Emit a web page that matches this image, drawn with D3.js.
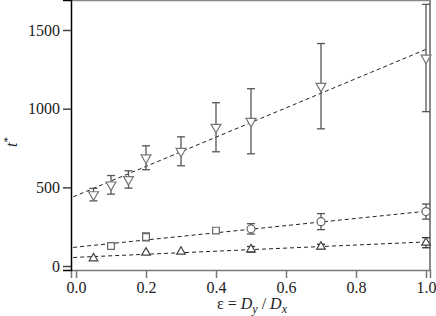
<!DOCTYPE html>
<html lang="en">
<head>
<meta charset="UTF-8">
<title>t* vs epsilon</title>
<script src="https://cdn.jsdelivr.net/npm/d3@7"></script>
<style>
  body { margin: 0; background: #fff; }
</style>
</head>
<body>
<script>
// data
var epsDown = [0.05, 0.1, 0.15, 0.2, 0.3, 0.4, 0.5, 0.7, 1.0];
var tDown   = [454, 516, 550, 688, 729, 882, 920, 1143, 1322];
var errDown = [40, 59, 55, 76, 92, 156, 207, 271, 341];

var epsSq = [0.1, 0.2, 0.4, 0.5, 0.7, 1.0];
var tSq   = [127, 185, 225, 236, 282, 346];
var errSq = [0, 25, 0, 33, 51, 48];

var epsUp = [0.05, 0.2, 0.3, 0.5, 0.7, 1.0];
var tUp   = [49, 85, 91, 106, 123, 148];
var errUp = [0, 0, 0, 18, 15, 32];

// fitted lines: [intercept, slope]
var fits = [[447, 930], [120, 228], [55, 98]];

var xTicks = [0, 0.2, 0.4, 0.6, 0.8, 1.0];
var yTicks = [0, 500, 1000, 1500];

var W = 436, H = 316;
var padL = 71, padR = 430, padT = 0, padB = 270;
var serif = '"Liberation Serif", "Times New Roman", serif';

var svg = d3.select("body").append("svg")
  .attr("width", W)
  .attr("height", H);

var x = d3.scaleLinear().domain([-5/350, 1 + 4/350]).range([padL, padR]);
var y = d3.scaleLinear().domain([-25.4, 1690.7]).range([padB, padT]);

// frame (top and right in grey)
svg.append("line").attr("x1", padL).attr("x2", padR + 1).attr("y1", 0.5).attr("y2", 0.5)
  .attr("stroke", "#888").attr("stroke-width", 1.5);
svg.append("line").attr("x1", padR).attr("x2", padR).attr("y1", 0).attr("y2", padB)
  .attr("stroke", "#888").attr("stroke-width", 2);

// axes
var xAxis = svg.append("g")
  .attr("transform", "translate(0," + padB + ")")
  .call(d3.axisBottom(x).tickValues(xTicks).tickFormat(d3.format(".1f")).tickSizeOuter(0).tickSize(8).tickPadding(4));
xAxis.select(".domain").attr("stroke", "#777").attr("stroke-width", 1.5);
xAxis.selectAll(".tick line").attr("stroke", "#777").attr("stroke-width", 1.5);
xAxis.selectAll("text").style("font-family", serif).style("font-size", "16px").attr("fill", "#222");

var yAxis = svg.append("g")
  .attr("transform", "translate(" + padL + ",0)")
  .call(d3.axisLeft(y).tickValues(yTicks).tickFormat(d3.format("d")).tickSizeOuter(0).tickSize(8).tickPadding(3));
yAxis.select(".domain").attr("stroke", "#000").attr("stroke-width", 1.5);
yAxis.selectAll(".tick line").attr("stroke", "#444").attr("stroke-width", 1.5);
yAxis.selectAll("text").style("font-family", serif).style("font-size", "16px").attr("fill", "#222");

// axis titles
var xt = svg.append("text")
  .attr("x", 252).attr("y", 309)
  .attr("text-anchor", "middle")
  .style("font-family", serif).style("font-size", "16px").attr("fill", "#222");
xt.append("tspan").text("ε = ");
xt.append("tspan").attr("font-style", "italic").text("D");
xt.append("tspan").attr("font-style", "italic").style("font-size", "12px").attr("dy", 4).text("y");
xt.append("tspan").attr("dy", -4).text(" / ");
xt.append("tspan").attr("font-style", "italic").text("D");
xt.append("tspan").attr("font-style", "italic").style("font-size", "12px").attr("dy", 4).text("x");

var yt = svg.append("text")
  .attr("transform", "translate(17,142) rotate(-90)")
  .attr("text-anchor", "middle")
  .style("font-family", serif).style("font-size", "16px").attr("fill", "#222");
yt.append("tspan").attr("font-style", "italic").text("t");
yt.append("tspan").style("font-size", "11px").attr("dy", -6).text("*");

// dashed fit lines
var fitG = svg.append("g");
fits.forEach(function(f) {
  fitG.append("line")
    .attr("x1", x(-0.008)).attr("y1", y(f[0] + f[1] * -0.008))
    .attr("x2", x(1.0)).attr("y2", y(f[0] + f[1]))
    .attr("stroke", "#222").attr("stroke-width", 1)
    .attr("stroke-dasharray", "4,3");
});

// error bars
function errorBars(xs, ys, es, color) {
  var g = svg.append("g").attr("stroke", color).attr("stroke-width", 1.3);
  xs.forEach(function(v, i) {
    if (!es[i]) return;
    var cx = x(v), y1 = y(ys[i] + es[i]), y2 = y(ys[i] - es[i]);
    g.append("line").attr("x1", cx).attr("x2", cx).attr("y1", y1).attr("y2", y2);
    g.append("line").attr("x1", cx - 4).attr("x2", cx + 4).attr("y1", y1).attr("y2", y1);
    g.append("line").attr("x1", cx - 4).attr("x2", cx + 4).attr("y1", y2).attr("y2", y2);
  });
}
errorBars(epsDown, tDown, errDown, "#555");
errorBars(epsSq, tSq, errSq, "#555");
errorBars(epsUp, tUp, errUp, "#333");

// markers
svg.append("g").selectAll("path")
  .data(epsDown).enter().append("path")
  .attr("d", d3.symbol().type(d3.symbolTriangle).size(42))
  .attr("transform", function(d, i) { return "translate(" + x(d) + "," + y(tDown[i]) + ") rotate(180)"; })
  .attr("fill", "#fff").attr("stroke", "#777").attr("stroke-width", 1.2);

svg.append("g").selectAll("path")
  .data(epsSq).enter().append("path")
  .attr("d", function(d) { return d3.symbol().type(d >= 0.5 ? d3.symbolCircle : d3.symbolSquare).size(d >= 0.5 ? 50 : 45)(); })
  .attr("transform", function(d, i) { return "translate(" + x(d) + "," + y(tSq[i]) + ")"; })
  .attr("fill", "#fff").attr("stroke", "#666").attr("stroke-width", 1.2);

svg.append("g").selectAll("path")
  .data(epsUp).enter().append("path")
  .attr("d", d3.symbol().type(d3.symbolTriangle).size(32))
  .attr("transform", function(d, i) { return "translate(" + x(d) + "," + y(tUp[i]) + ")"; })
  .attr("fill", "#fff").attr("stroke", "#444").attr("stroke-width", 1.2);
</script>
</body>
</html>
